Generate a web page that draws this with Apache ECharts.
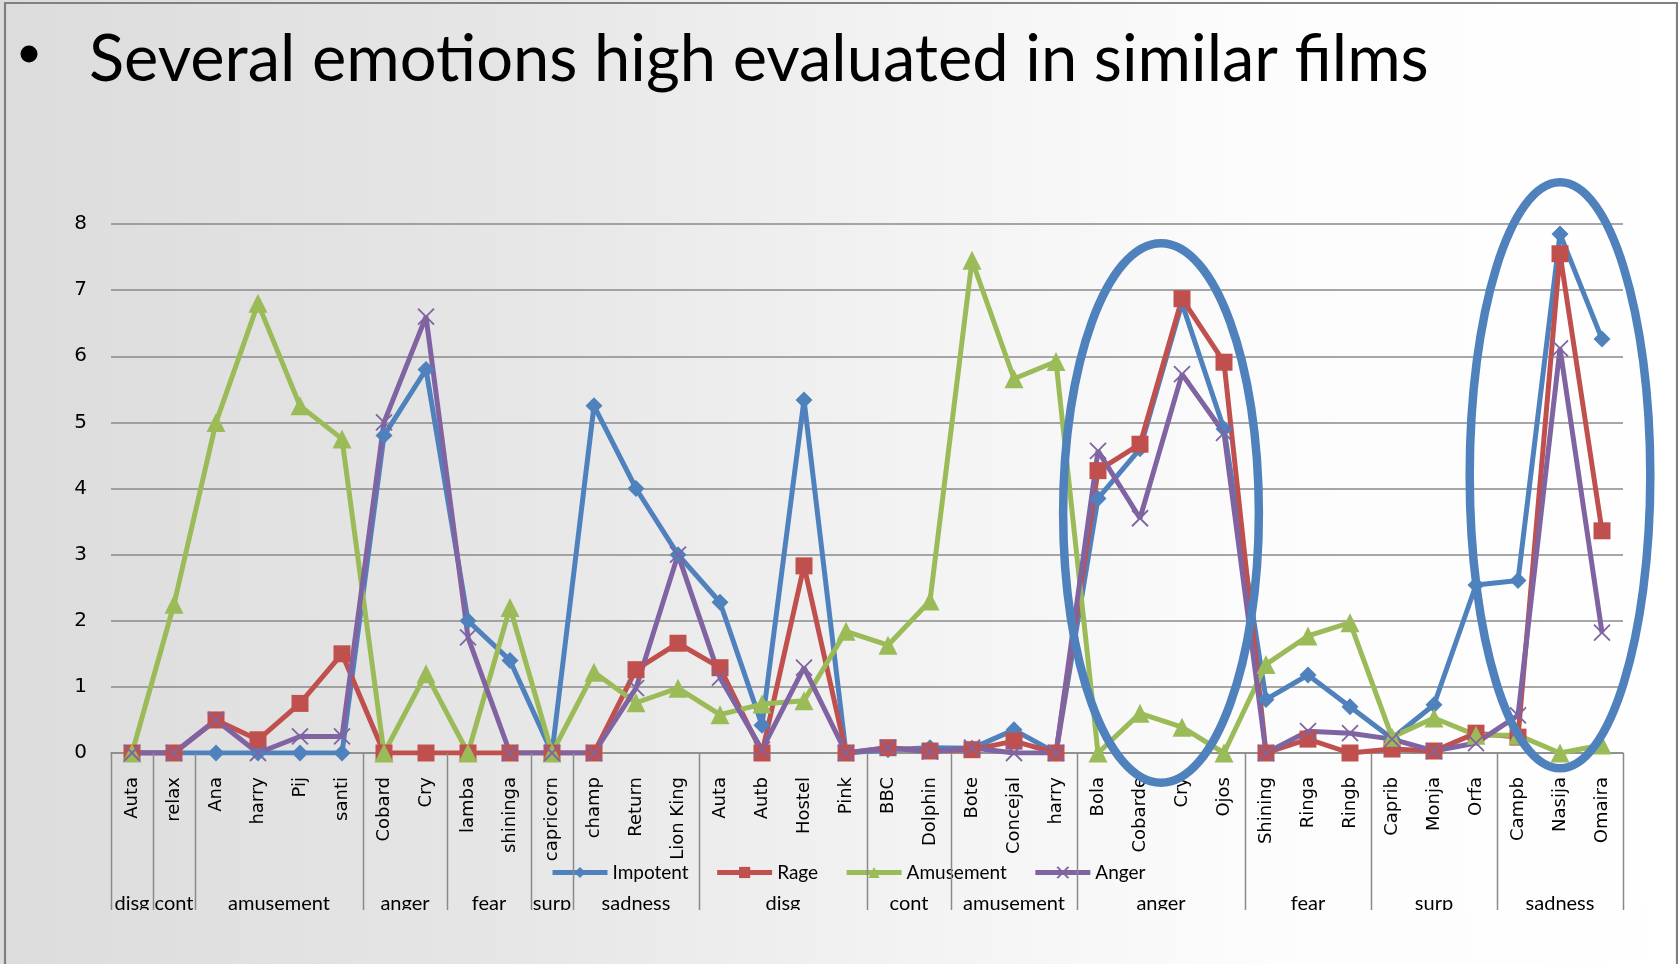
<!DOCTYPE html>
<html><head><meta charset="utf-8">
<script src="https://cdn.jsdelivr.net/npm/echarts@6/dist/echarts.min.js"></script>
<style>
html,body{margin:0;padding:0;}
#c{width:1678px;height:964px;background:linear-gradient(to right,#dcdcdc 0%,#e6e6e6 30%,#f3f3f3 55%,#fcfcfc 75%,#ffffff 100%);}
</style>
</head><body><div id="c"></div>
<script>
const categories = ['Auta','relax','Ana','harry','Pij','santi','Cobard','Cry','lamba','shininga','capricorn','champ','Return','Lion King','Auta','Autb','Hostel','Pink','BBC','Dolphin','Bote','Concejal','harry','Bola','Cobarde','Cry','Ojos','Shining','Ringa','Ringb','Caprib','Monja','Orfa','Campb','Nasija','Omaira'];
const groupNames = ['disg','cont','amusement','anger','fear','surp','sadness','disg','cont','amusement','anger','fear','surp','sadness'];
const groupSizes = [1,1,4,2,2,1,3,4,2,3,4,3,3,3];
const seriesNames = ['Impotent','Rage','Amusement','Anger'];
const impotent  = [0,0,0,0,0,0,4.8,5.8,2.0,1.4,0,5.25,4.0,3.0,2.28,0.42,5.34,0,0.05,0.08,0.07,0.35,0,3.85,4.6,6.8,4.9,0.81,1.18,0.7,0.22,0.73,2.54,2.61,7.85,6.26];
const rage      = [0,0,0.5,0.2,0.75,1.5,0,0,0,0,0,0,1.26,1.66,1.29,0,2.83,0,0.08,0.03,0.05,0.18,0,4.27,4.67,6.87,5.91,0,0.21,0,0.06,0.03,0.3,0.24,7.55,3.36];
const amusement = [0,2.25,5.0,6.8,5.25,4.75,0,1.2,0,2.2,0,1.22,0.76,0.98,0.58,0.74,0.79,1.84,1.63,2.3,7.45,5.66,5.92,0,0.6,0.39,0,1.34,1.77,1.97,0.24,0.53,0.27,0.27,0,0.12];
const anger     = [0,0,0.5,0,0.25,0.25,5.0,6.6,1.75,0,0,0,0.98,3.0,1.14,0.05,1.29,0,0.08,0.02,0.08,0,0,4.57,3.55,5.73,4.84,0,0.33,0.3,0.21,0.03,0.15,0.57,6.12,1.82];
const yMin = 0, yMax = 8, yInterval = 1;
const titleText = 'Several emotions high evaluated in similar films';
// annotation ellipses: [center category index, center value], [half-width in categories, half-height in values]
const ellipseCenters = [[24.5, 3.63], [34.0, 4.2]];
const ellipseRadii = [[2.33, 4.08], [2.15, 4.43]];

const colors = ['#4F81BD','#C0504D','#9BBB59','#8064A2'];
const bgFill = {type:'linear',x:0,y:0,x2:1,y2:0,colorStops:[
  {offset:0,color:'#dcdcdc'},{offset:0.3,color:'#e6e6e6'},{offset:0.55,color:'#f3f3f3'},{offset:0.75,color:'#fcfcfc'},{offset:1,color:'#ffffff'}]};

const chart = echarts.init(document.getElementById('c'), null, {renderer:'canvas'});
const crossPath = 'path://M0,0L10,10M10,0L0,10';
function mkSeries(name, data, symbol, size, extra){
  return Object.assign({
    name, type:'line', data, symbol, symbolSize:size, showSymbol:true, showAllSymbol:true,
    lineStyle:{width:5}, animation:false
  }, extra||{});
}
chart.setOption({
  animation:false,
  color: colors,
  grid:{left:111, right:55, top:224, bottom:211, containLabel:false, outerBoundsMode:'none'},
  legend:{
    left:545, top:858, itemWidth:55, itemHeight:14, itemGap:26,
    lineStyle:{width:5},
    textStyle:{fontFamily:'Lato', fontSize:19, color:'#000'},
    data: seriesNames
  },
  xAxis:{
    type:'category', data:categories, boundaryGap:true,
    axisLine:{lineStyle:{color:'#8a8a8a', width:1.5}},
    axisTick:{show:false},
    axisLabel:{interval:0, rotate:90, margin:24, fontFamily:'DejaVu Sans', fontSize:18, color:'#000'},
    splitLine:{show:false}
  },
  yAxis:{
    type:'value', min:yMin, max:yMax, interval:yInterval,
    axisLine:{show:false}, axisTick:{show:false},
    axisLabel:{margin:24, fontFamily:'DejaVu Sans', fontSize:20, color:'#000'},
    splitLine:{lineStyle:{color:'#8a8a8a', width:1.5}}
  },
  series:[
    mkSeries(seriesNames[0], impotent, 'diamond', 17),
    mkSeries(seriesNames[1], rage, 'rect', 17),
    mkSeries(seriesNames[2], amusement, 'triangle', 19),
    mkSeries(seriesNames[3], anger, crossPath, 16, {itemStyle:{color:colors[3], borderColor:colors[3], borderWidth:1.8}})
  ]
});

function px(i){ return chart.convertToPixel({xAxisIndex:0}, i); }
function py(v){ return chart.convertToPixel({yAxisIndex:0}, v); }
const x0 = px(0), bw = px(1) - px(0);
const left0 = x0 - bw/2;
const axisY = py(0);
const els = [];
// title
els.push({type:'circle', shape:{cx:29, cy:54, r:8.5}, style:{fill:'#000'}, z:100});
els.push({type:'text', x:89, y:60, style:{text:titleText, font:'65px Lato', fill:'#000', verticalAlign:'middle', align:'left'}, z:100});
// group separators and labels
let k = 0;
const bounds = [0];
groupSizes.forEach(s => { k += s; bounds.push(k); });
bounds.forEach(b => {
  const x = Math.round(left0 + b*bw) + 0.5;
  els.push({type:'line', shape:{x1:x, y1:axisY, x2:x, y2:912}, style:{stroke:'#8a8a8a', lineWidth:1.5}, z:10});
});
groupNames.forEach((g, i) => {
  const cx = left0 + (bounds[i] + bounds[i+1]) / 2 * bw;
  els.push({type:'text', x:cx, y:904, style:{text:g, font:'20px Lato', fill:'#000', align:'center', verticalAlign:'middle'}, z:10});
});
// cover to clip group labels
els.push({type:'rect', shape:{x:0, y:910, width:1678, height:54}, style:{fill:bgFill}, z:50});
// ellipses
ellipseCenters.forEach((c, i) => {
  const cxp = left0 + (c[0] + 0.5) * bw;
  const cyp = py(c[1]);
  const rx = ellipseRadii[i][0] * bw;
  const ry = py(0) - py(ellipseRadii[i][1]);
  els.push({type:'ellipse', shape:{cx:cxp, cy:cyp, rx:rx, ry:ry}, style:{fill:null, stroke:'#4F81BD', lineWidth:8.5}, z:100});
});
// slide border
els.push({type:'polyline', shape:{points:[[5,964],[5,3],[1677,3],[1677,964]]}, style:{stroke:'#808080', lineWidth:2.2, fill:null}, z:120});
chart.setOption({graphic:{elements:els}});
</script>
</body></html>
